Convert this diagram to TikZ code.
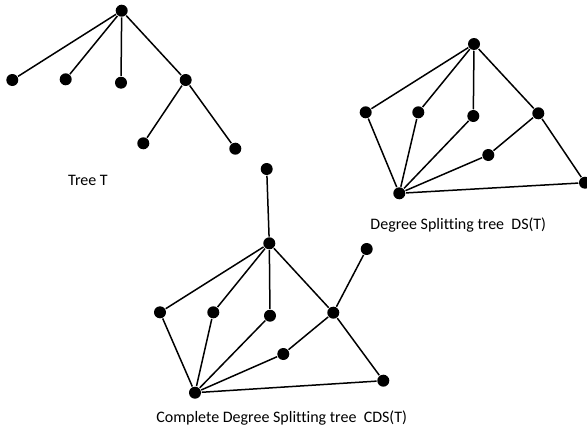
\documentclass[tikz,border=0pt]{standalone}
\usepackage{fontspec}
\setmainfont{Carlito}[Ligatures=NoCommon]
\begin{document}
\begin{tikzpicture}[x=1pt,y=-1pt,line width=1.5pt]
\useasboundingbox (0,0) rectangle (587,431);

        % tree T
        \begin{scope}[every node/.style={circle,fill,inner sep=0pt,minimum size=12pt}]
          \node (t0) at (121.7,10.7)  {};
          \node (t1) at (12.3,80)     {};
          \node (t2) at (65.7,79.3)   {};
          \node (t3) at (121,82.7)    {};
          \node (t4) at (185.7,80)    {};
          \node (t5) at (143.3,143.3) {};
          \node (t6) at (235.3,148.7) {};
        \end{scope}

        % degree splitting tree
        \begin{scope}[every node/.style={circle,fill,inner sep=0pt,minimum size=12pt}]
          \node (d0) at (474,44)      {};
          \node (d1) at (365.7,112.3) {};
          \node (d2) at (418.3,112.3) {};
          \node (d3) at (473.3,116)   {};
          \node (d4) at (538.3,113.3) {};
          \node (d5) at (488.3,155)   {};
          \node (d6) at (585,182.7)   {};
          \node (d7) at (399.3,193.3) {};
        \end{scope}

        % complete degree splitting tree
        \begin{scope}[every node/.style={circle,fill,inner sep=0pt,minimum size=12pt}]
          \node (c0) at (269.3,243.3) {};
          \node (c1) at (160,312.3)   {};
          \node (c2) at (213.3,312.3) {};
          \node (c3) at (270,315.7)   {};
          \node (c4) at (333.3,312.7) {};
          \node (c5) at (283.3,354)   {};
          \node (c6) at (383.3,380.7) {};
          \node (c7) at (195,392.7)   {};
          \node (c8) at (266.7,169)   {};
          \node (c9) at (366.7,249)   {};
        \end{scope}

        \begin{scope}[every edge/.style={draw}]
          \path (t0) edge (t1) edge (t2) edge (t3) edge (t4);
          \path (t4) edge (t5) edge (t6);

          \path (d0) edge (d1) edge (d2) edge (d3) edge (d4);
          \path (d4) edge (d5) edge (d6);
          \path (d7) edge (d1) edge (d2) edge (d3) edge (d5) edge (d6);

          \path (c0) edge (c1) edge (c2) edge (c3) edge (c4) edge (c8);
          \path (c4) edge (c5) edge (c6) edge (c9);
          \path (c7) edge (c1) edge (c2) edge (c3) edge (c5) edge (c6);
        \end{scope}

        \begin{scope}[every node/.style={font=\fontsize{16}{19}\selectfont}]
          \node (tl) at (88,180)     {Tree T};
          \node (dl) at (458.3,225)  {Degree Splitting tree\ \ DS(T)};
          \node (cl) at (281.7,418.3) {Complete Degree Splitting tree\ \ CDS(T)};
        \end{scope}

      \end{tikzpicture}
\end{document}
